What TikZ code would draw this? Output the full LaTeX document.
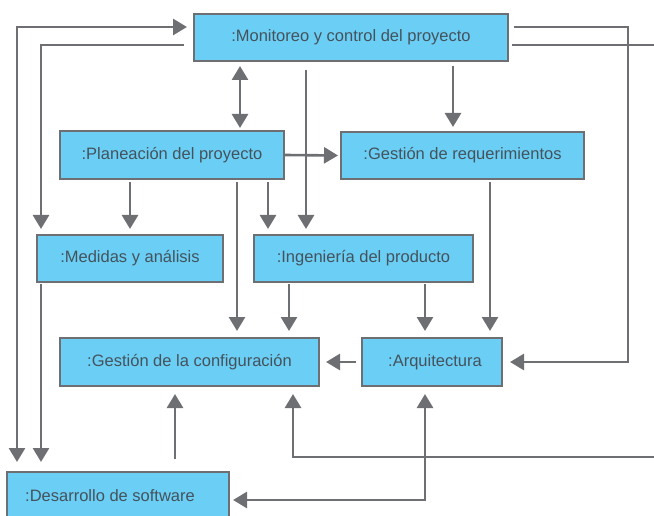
\documentclass[tikz,border=0pt]{standalone}
\usepackage{fontspec}
\setmainfont{Liberation Sans}
\usetikzlibrary{arrows.meta}
\definecolor{boxfill}{HTML}{6BCFF5}
\definecolor{edge}{HTML}{6D6F72}
\definecolor{ink}{HTML}{44525C}
\begin{document}
\begin{tikzpicture}[x=1pt,y=-1pt,
  box/.style={draw=edge, line width=2pt, fill=boxfill, inner sep=0pt,
    text=ink, font=\fontsize{16.5}{19}\selectfont},
  link/.style={draw=edge, line width=2.6pt},
  tip/.tip={Triangle[length=14pt,width=16pt]},
  arr/.style={link, -tip}]
\useasboundingbox (0,0) rectangle (654,516);

% process boxes
\node[box, minimum width=314pt, minimum height=47pt] (mon)  at (351,37.5)  {:Monitoreo y control del proyecto};
\node[box, minimum width=224pt, minimum height=48pt] (plan) at (172,155)   {:Planeación del proyecto};
\node[box, minimum width=243pt, minimum height=47pt] (req)  at (462.5,155.5) {:Gestión de requerimientos};
\node[box, minimum width=186pt, minimum height=47pt] (med)  at (130,258.5) {:Medidas y análisis};
\node[box, minimum width=219pt, minimum height=47pt] (ing)  at (363.5,258.5) {:Ingeniería del producto};
\node[box, minimum width=259pt, minimum height=48pt] (conf) at (189.5,362) {:Gestión de la configuración};
\node[box, minimum width=140pt, minimum height=48pt] (arq)  at (432,362)   {\hspace*{6pt}:Arquitectura};
\node[box, minimum width=222pt, minimum height=48pt] (des)  at (118,496)   {\hspace*{-16pt}:Desarrollo de software};

% lines leaving the picture on the right
\coordinate (eR1) at (654,45);
\coordinate (eR2) at (654,457);

% left side loops
\draw[link, tip-tip, shorten <=9pt, shorten >=6pt] (des.north -| 17,0) -- (17,27) -- (mon.west |- 0,27);
\draw[arr, shorten <=9pt, shorten >=5pt] (mon.west |- 0,45) -- (41,45) -- (med.north -| 41,0);
\draw[arr, shorten <=1pt, shorten >=9pt] (med.south -| 41,0) -- (des.north -| 41,0);

% from monitoring
\draw[link, tip-tip, shorten <=4pt, shorten >=2pt] (mon.south -| 240,0) -- (plan.north -| 240,0);
\draw[arr, shorten <=8pt, shorten >=5pt] (mon.south -| 306,0) -- (ing.north -| 306,0);
\draw[arr, shorten <=4pt, shorten >=4pt] (mon.south -| 453,0) -- (req.north -| 453,0);
\draw[arr, shorten <=5pt, shorten >=7pt] (mon.east |- 0,27) -- (628,27) -- (628,362) -- (arq.east);
\draw[link, shorten <=3pt] (mon.east |- 0,45) -- (eR1);

% from planning
\draw[arr, shorten >=2pt] (plan.east) -- (req.west);
\draw[arr, shorten <=2pt, shorten >=5pt] (plan.south -| 130,0) -- (med.north -| 130,0);
\draw[arr, shorten <=2pt, shorten >=6pt] (plan.south -| 237,0) -- (conf.north -| 237,0);
\draw[arr, shorten <=2pt, shorten >=5pt] (plan.south -| 268,0) -- (ing.north -| 268,0);

% engineering and requirements
\draw[arr, shorten <=1pt, shorten >=6pt] (ing.south -| 289,0) -- (conf.north -| 289,0);
\draw[arr, shorten <=1pt, shorten >=6pt] (ing.south -| 425,0) -- (arq.north -| 425,0);
\draw[arr, shorten <=2pt, shorten >=6pt] (req.south -| 490,0) -- (arq.north -| 490,0);

% architecture and configuration
\draw[arr, shorten <=5pt, shorten >=6pt] (arq.west) -- (conf.east);
\draw[arr, shorten >=7pt] (eR2) -- (293,457) -- (conf.south -| 293,0);
\draw[link, tip-tip, shorten <=7pt, shorten >=3pt] (arq.south -| 425,0) -- (425,500) -- (des.east |- 0,500);
\draw[arr, shorten <=12pt, shorten >=7pt] (des.north -| 175,0) -- (conf.south -| 175,0);
\end{tikzpicture}
\end{document}
